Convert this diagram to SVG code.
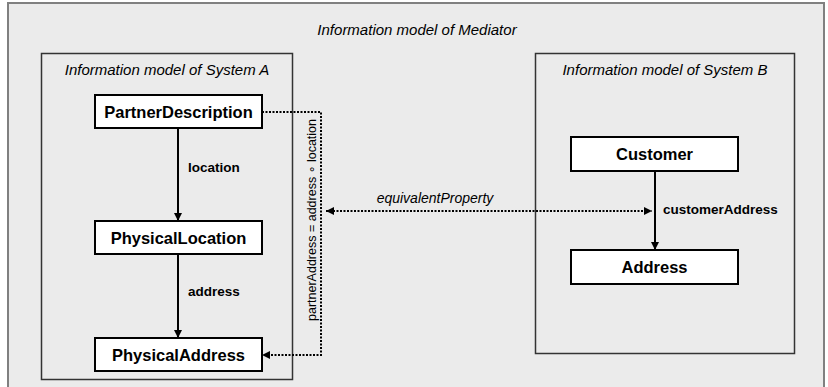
<svg xmlns="http://www.w3.org/2000/svg" width="828" height="387" viewBox="0 0 828 387">
<style>
.it{font-family:"Liberation Sans",Arial,sans-serif;font-style:italic;font-size:15px;fill:#000}
.eq{font-family:"Liberation Sans",Arial,sans-serif;font-style:italic;font-size:14px;fill:#000}
.nb{font-family:"Liberation Sans",Arial,sans-serif;font-weight:bold;font-size:16.5px;fill:#000;text-anchor:middle}
.lb{font-family:"Liberation Sans",Arial,sans-serif;font-weight:bold;font-size:13.5px;fill:#000}
.rg{font-family:"Liberation Sans","DejaVu Sans",Arial,sans-serif;font-size:12.5px;fill:#000}
.node{fill:#fff;stroke:#000;stroke-width:2}
.sys{fill:none;stroke:#333;stroke-width:1.5}
.solid{stroke:#000;stroke-width:2;fill:none}
.dot{stroke:#000;stroke-width:2;fill:none;stroke-dasharray:2 1.5}
</style>
<defs>
<marker id="ah" viewBox="0 0 8 8" refX="8" refY="4" markerWidth="8" markerHeight="8" markerUnits="userSpaceOnUse" orient="auto-start-reverse">
<path d="M0,0 L8,4 L0,8 z" fill="#000"/>
</marker>
</defs>
<g id="mediator">
<rect x="8" y="3" width="816" height="392" fill="#ebebeb" stroke="#808080" stroke-width="2"/>
<text class="it" x="417" y="35" text-anchor="middle">Information model of Mediator</text>
</g>
<g id="systemA">
<rect class="sys" x="41.5" y="53.5" width="251" height="326"/>
<text class="it" x="167" y="75" text-anchor="middle">Information model of System A</text>
</g>
<g id="systemB">
<rect class="sys" x="535.5" y="53.5" width="259" height="300"/>
<text class="it" x="665" y="75" text-anchor="middle">Information model of System B</text>
</g>
<g id="connectors">
<line class="solid" x1="178" y1="128" x2="178" y2="221" marker-end="url(#ah)"/>
<line class="solid" x1="178" y1="254" x2="178" y2="338" marker-end="url(#ah)"/>
<line class="solid" x1="655" y1="171" x2="655" y2="250" marker-end="url(#ah)"/>
<polyline class="dot" points="262,112 321,112 321,355 262,355" marker-end="url(#ah)"/>
<line class="dot" x1="326" y1="211" x2="652" y2="211" marker-start="url(#ah)" marker-end="url(#ah)"/>
<text class="lb" x="188" y="172">location</text>
<text class="lb" x="188" y="296">address</text>
<text class="lb" x="663" y="214">customerAddress</text>
<text class="eq" x="435" y="203" text-anchor="middle">equivalentProperty</text>
<text class="rg" x="0" y="0" text-anchor="middle" transform="translate(316,220) rotate(-90)">partnerAddress = address ∘ location</text>
</g>
<g id="PartnerDescription">
<rect class="node" x="95" y="95" width="167" height="33"/>
<text class="nb" x="178.5" y="118">PartnerDescription</text>
</g>
<g id="PhysicalLocation">
<rect class="node" x="95" y="221" width="167" height="33"/>
<text class="nb" x="178.5" y="244">PhysicalLocation</text>
</g>
<g id="PhysicalAddress">
<rect class="node" x="95" y="338" width="167" height="33"/>
<text class="nb" x="178.5" y="361">PhysicalAddress</text>
</g>
<g id="Customer">
<rect class="node" x="571" y="137" width="167" height="34"/>
<text class="nb" x="654.5" y="160">Customer</text>
</g>
<g id="Address">
<rect class="node" x="571" y="250" width="167" height="34"/>
<text class="nb" x="654.5" y="273">Address</text>
</g>
</svg>
